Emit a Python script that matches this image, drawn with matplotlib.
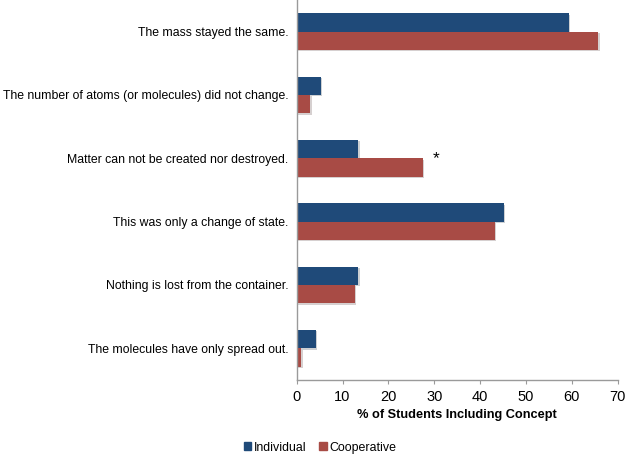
import numpy as np
import matplotlib.pyplot as plt
from matplotlib.patches import Patch
import matplotlib.patheffects as pe

plt.rcParams['font.family'] = ['Liberation Sans', 'DejaVu Sans']

# Data
concepts = [
    "The mass stayed the same.",
    "The number of atoms (or molecules) did not change.",
    "Matter can not be created nor destroyed.",
    "This was only a change of state.",
    "Nothing is lost from the container.",
    "The molecules have only spread out.",
]
individual = [59.3, 5.2, 13.4, 45.1, 13.4, 4.2]
cooperative = [65.8, 3.0, 27.5, 43.2, 12.7, 1.0]
xticks = [0, 10, 20, 30, 40, 50, 60, 70]

BLUE = '#1f4a79'
RED = '#a84b45'
GREY = '#9a9a9a'

fig = plt.figure(figsize=(6.25, 4.54), dpi=100)
ax = fig.add_axes([0.4747, 0.163, 0.5136, 0.837])

y = np.arange(len(concepts))
h = 0.29
shadow = [pe.SimplePatchShadow(offset=(1, -1), alpha=0.2), pe.Normal()]
ax.barh(y - h / 2, individual, height=h, color=BLUE, path_effects=shadow)
ax.barh(y + h / 2, cooperative, height=h, color=RED, path_effects=shadow)

# significance marker
ax.text(30.3, 2.0, "*", ha='center', va='center', fontsize=12.5)

ax.set_ylim(len(concepts) - 0.5, -0.5)
ax.set_xlim(0, 70)
ax.set_yticks(y)
ax.set_yticklabels(concepts, fontsize=8.8)
ax.set_xticks(xticks)
ax.set_xticklabels([str(t) for t in xticks], fontsize=10.5)
ax.tick_params(axis='y', length=0, pad=6)
ax.tick_params(axis='x', length=3, color=GREY, pad=4)

for s in ['top', 'right']:
    ax.spines[s].set_visible(False)
for s in ['left', 'bottom']:
    ax.spines[s].set_color(GREY)
    ax.spines[s].set_linewidth(1)

ax.set_xlabel("% of Students Including Concept", fontsize=9.2,
              fontweight='bold', labelpad=4)

handles = [Patch(color=BLUE, label='Individual'),
           Patch(color=RED, label='Cooperative')]
fig.legend(handles=handles, loc='center left', bbox_to_anchor=(0.372, 0.014),
           ncol=2, frameon=False, fontsize=8.9, handlelength=0.6,
           handleheight=0.6, handletextpad=0.25, columnspacing=1.0)

fig.savefig('out.png', dpi=100)
